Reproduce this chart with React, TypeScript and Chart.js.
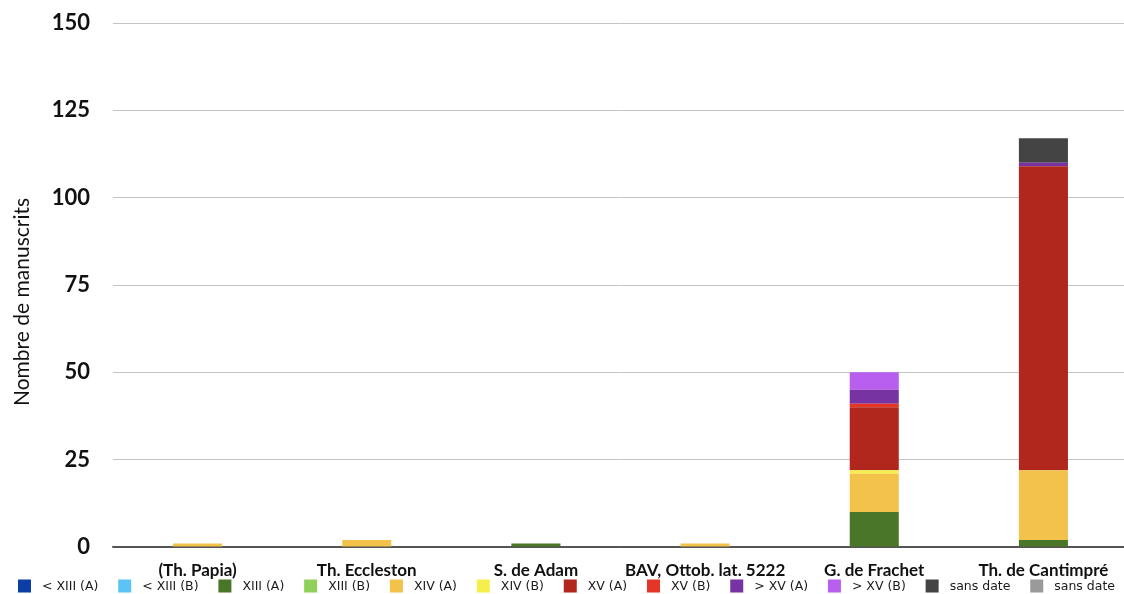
import React, { useEffect, useRef } from 'react';
import { Chart, registerables } from 'chart.js';

Chart.register(...registerables);

const categories = ['(Th. Papia)', 'Th. Eccleston', 'S. de Adam', 'BAV, Ottob. lat. 5222', 'G. de Frachet', 'Th. de Cantimpré'];

const seriesLabels = ['< XIII (A)', '< XIII (B)', 'XIII (A)', 'XIII (B)', 'XIV (A)', 'XIV (B)', 'XV (A)', 'XV (B)', '> XV (A)', '> XV (B)', 'sans date', 'sans date'];

const ltXIIIA = [0, 0, 0, 0, 0, 0];
const ltXIIIB = [0, 0, 0, 0, 0, 0];
const xiiiA = [0, 0, 1, 0, 10, 2];
const xiiiB = [0, 0, 0, 0, 0, 0];
const xivA = [1, 2, 0, 1, 11, 20];
const xivB = [0, 0, 0, 0, 1, 0];
const xvA = [0, 0, 0, 0, 18, 87];
const xvB = [0, 0, 0, 0, 1, 0];
const gtXVA = [0, 0, 0, 0, 4, 1];
const gtXVB = [0, 0, 0, 0, 5, 0];
const sansDateA = [0, 0, 0, 0, 0, 7];
const sansDateB = [0, 0, 0, 0, 0, 0];

const seriesValues = [ltXIIIA, ltXIIIB, xiiiA, xiiiB, xivA, xivB, xvA, xvB, gtXVA, gtXVB, sansDateA, sansDateB];

const seriesColors = ['#0c3ea6', '#5bc4f4', '#4a7628', '#8fd15b', '#f2c24a', '#f6ee4c', '#b1271d', '#e53526', '#7833a2', '#b85ff0', '#444444', '#9a9a9a'];

const yTicks = [0, 25, 50, 75, 100, 125, 150];
const yTitle = 'Nombre de manuscrits';

const LEGEND_FONT = '12.5px "DejaVu Sans"';
const LEGEND_BOX = 13;
const LEGEND_BOX_GAP = 11;
const LEGEND_LEFT = 18;
const LEGEND_RIGHT = 1115;
const LEGEND_Y = 586;

const bottomLegend = {
  id: 'bottomLegend',
  afterDraw(chart: any) {
    const ctx = chart.ctx;
    const items = chart.data.datasets.map((ds: any) => ({ label: ds.label, color: ds.backgroundColor }));
    ctx.save();
    ctx.font = LEGEND_FONT;
    const widths = items.map((it: any) => ctx.measureText(it.label).width);
    const itemsWidth = widths.reduce((a: number, w: number) => a + w + LEGEND_BOX + LEGEND_BOX_GAP, 0);
    const gap = (LEGEND_RIGHT - LEGEND_LEFT - itemsWidth) / (items.length - 1);
    let x = LEGEND_LEFT;
    ctx.textBaseline = 'middle';
    ctx.textAlign = 'left';
    items.forEach((it: any, i: number) => {
      ctx.fillStyle = it.color;
      ctx.fillRect(x, LEGEND_Y - LEGEND_BOX / 2, LEGEND_BOX, LEGEND_BOX);
      ctx.fillStyle = '#1a1a1a';
      ctx.fillText(it.label, x + LEGEND_BOX + LEGEND_BOX_GAP, LEGEND_Y + 0.5);
      x += LEGEND_BOX + LEGEND_BOX_GAP + widths[i] + gap;
    });
    ctx.restore();
  },
};

const yAxisTitle = {
  id: 'yAxisTitle',
  afterDraw(chart: any) {
    const ctx = chart.ctx;
    ctx.save();
    ctx.translate(22, 302);
    ctx.rotate(-Math.PI / 2);
    ctx.font = '21px Lato';
    ctx.fillStyle = '#111';
    ctx.textAlign = 'center';
    ctx.textBaseline = 'middle';
    ctx.fillText(yTitle, 0, 0);
    ctx.restore();
  },
};

export default function App() {
  const ref = useRef<HTMLCanvasElement | null>(null);

  useEffect(() => {
    document.body.style.margin = '0';
    document.body.style.overflow = 'hidden';
    const canvas = ref.current;
    if (!canvas) return;
    const chart = new Chart(canvas, {
      type: 'bar',
      data: {
        labels: categories,
        datasets: seriesLabels.map((label, i) => ({
          label,
          data: seriesValues[i],
          backgroundColor: seriesColors[i],
          borderColor: seriesColors[i],
          borderWidth: 0,
          categoryPercentage: 1,
          barPercentage: 0.29,
        })),
      },
      plugins: [bottomLegend, yAxisTitle],
      options: {
        animation: false,
        responsive: false,
        maintainAspectRatio: false,
        layout: { padding: { top: 23, right: 0, bottom: 15, left: 0 } },
        plugins: {
          legend: { display: false },
          tooltip: { enabled: false },
        },
        scales: {
          x: {
            stacked: true,
            grid: { display: false, drawTicks: false },
            border: { display: true, color: '#555', width: 1.5 },
            afterFit: (axis: any) => {
              axis.height = 32;
            },
            ticks: {
              padding: 13,
              color: '#111',
              font: { family: 'Lato', size: 17, weight: 'bold' },
              maxRotation: 0,
              autoSkip: false,
            },
          },
          y: {
            stacked: true,
            min: 0,
            max: 150,
            afterBuildTicks: (axis: any) => {
              axis.ticks = yTicks.map((v) => ({ value: v }));
            },
            afterFit: (axis: any) => {
              axis.width = 113;
              axis.paddingTop = 0;
              axis.paddingBottom = 0;
            },
            grid: {
              color: (ctx: any) => (ctx.tick && ctx.tick.value === 0 ? '#555' : '#c4c4c4'),
              lineWidth: 1,
              drawTicks: false,
            },
            border: { display: false },
            ticks: {
              padding: 23,
              color: '#111',
              font: { family: 'Lato', size: 22, weight: 'bold' },
            },
            title: { display: false },
          },
        },
      },
    });
    return () => chart.destroy();
  }, []);

  return (
    <div style={{ width: 1128, height: 594 }}>
      <canvas ref={ref} width={1128} height={594} />
    </div>
  );
}
